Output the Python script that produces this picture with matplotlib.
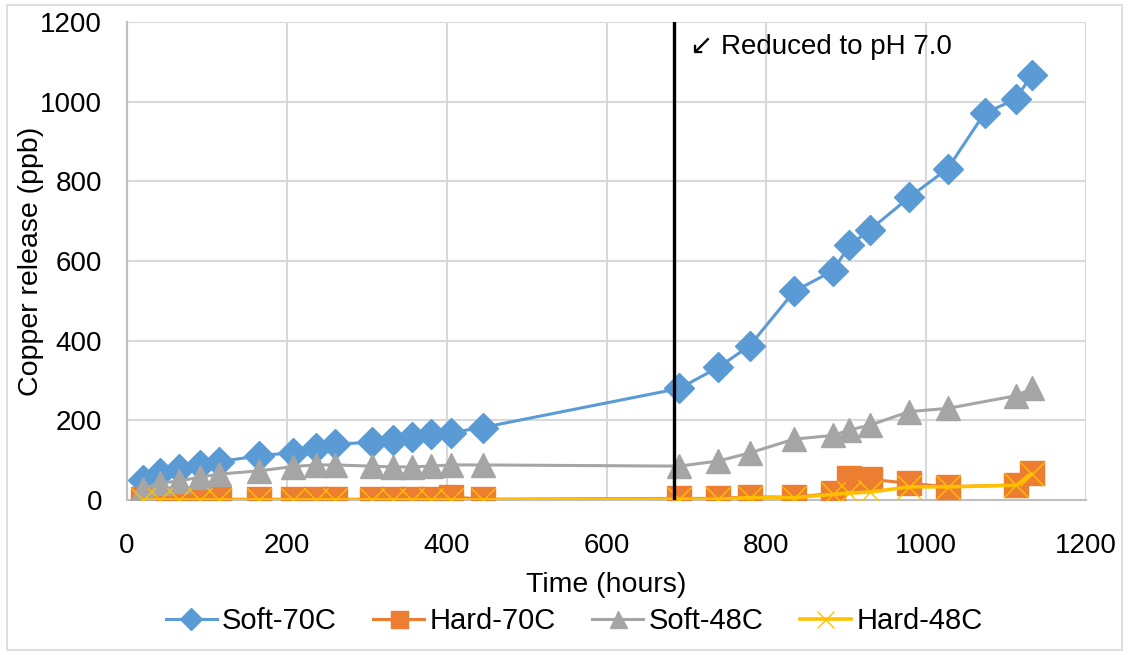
import matplotlib
matplotlib.use("Agg")
import matplotlib.pyplot as plt
from matplotlib.patches import Rectangle

plt.rcParams['font.family'] = ['Liberation Sans', 'DejaVu Sans']

# Sampling times (hours)
hours = [20, 41, 65, 91, 115, 165, 208, 236, 260, 306, 333, 357, 381, 405, 445,
         691, 740, 779, 835, 883, 904, 930, 979, 1027, 1073, 1112, 1132]

soft_70 = [50, 67, 77, 87, 96, 111, 119, 130, 140, 145, 151, 159, 165, 169, 182,
           280, 333, 387, 524, 575, 639, 679, 760, 832, 971, 1006, 1067]

hours_b = [20, 41, 65, 91, 115, 165, 208, 236, 260, 306, 333, 357, 381, 405, 445,
           691, 740, 779, 835, 883, 904, 930, 979, 1027, 1113, 1132]

hard_70 = [2, 2, 2, 2, 2, 2, 2, 2, 2, 2, 2, 2, 2, 8, 2,
           4, 4, 8, 7, 17, 55, 52, 42, 33, 38, 68]

soft_48 = [28, 42, 48, 57, 65, 73, 84, 88, 88, 85, 83, 83, 85, 88, 88,
           85, 98, 118, 153, 162, 176, 188, 222, 230, 262, 280]

hard_48 = [0, 0, 0, 0, 0, 0, 0, 0, 0, 0, 0, 0, 0, 0, 0,
           2, 2, 6, 6, 14, 17, 20, 33, 33, 37, 65]

ph_change_hour = 684
ph_note = "\u2199 Reduced to pH 7.0"

x_ticks = [0, 200, 400, 600, 800, 1000, 1200]
y_ticks = [0, 200, 400, 600, 800, 1000, 1200]

W, H = 1129, 655
fig = plt.figure(figsize=(W / 100, H / 100), dpi=100)
ax = fig.add_axes([127 / W, 1 - 500 / H, (1086 - 127) / W, (500 - 22) / H])

ax.plot(hours, soft_70, color='#5B9BD5', lw=2.2, marker='D', ms=15,
        label='Soft-70C', zorder=3)
ax.plot(hours_b, hard_70, color='#ED7D31', lw=2.2, marker='s', ms=17,
        label='Hard-70C', zorder=4)
ax.plot(hours_b, soft_48, color='#A5A5A5', lw=2.2, marker='^', ms=17,
        label='Soft-48C', zorder=5)
ax.plot(hours_b, hard_48, color='#FFC000', lw=2.6, marker='x', ms=17,
        mew=1.0, label='Hard-48C', zorder=6)

ax.plot([ph_change_hour, ph_change_hour], [0, 1200], color='black', lw=2.4,
        zorder=7)
ax.text(704, 1137, ph_note, fontsize=20, va='center', ha='left', zorder=8)

ax.set_xlim(0, 1200)
ax.set_ylim(0, 1200)
ax.set_xticks(x_ticks)
ax.set_yticks(y_ticks)
ax.tick_params(axis='x', length=0, labelsize=20, pad=24)
ax.tick_params(axis='y', length=0, labelsize=20, pad=18)
ax.grid(True, color='#D9D9D9', lw=1.5, zorder=0)
ax.set_axisbelow(True)
for side in ['top', 'right']:
    ax.spines[side].set_visible(False)
for side in ['left', 'bottom']:
    ax.spines[side].set_color('#BFBFBF')
    ax.spines[side].set_linewidth(1.5)

ax.set_xlabel('Time (hours)', fontsize=20.5)
ax.set_ylabel('Copper release (ppb)', fontsize=20.5)
ax.xaxis.set_label_coords(0.5, (500 - 572) / 478)
ax.yaxis.set_label_coords((44 - 127) / 959, 0.5)

leg = fig.legend(loc='center', bbox_to_anchor=(574 / W, 1 - 621 / H), ncol=4,
                 frameon=False, fontsize=21, handlelength=1.75,
                 columnspacing=1.25, handletextpad=0.18, markerscale=0.72)

fig.add_artist(Rectangle((7 / W, 5 / H), (1122 - 7) / W, (650 - 5) / H,
                         transform=fig.transFigure, fill=False,
                         edgecolor='#D9D9D9', lw=1.2))

fig.savefig('out.png', dpi=100)
